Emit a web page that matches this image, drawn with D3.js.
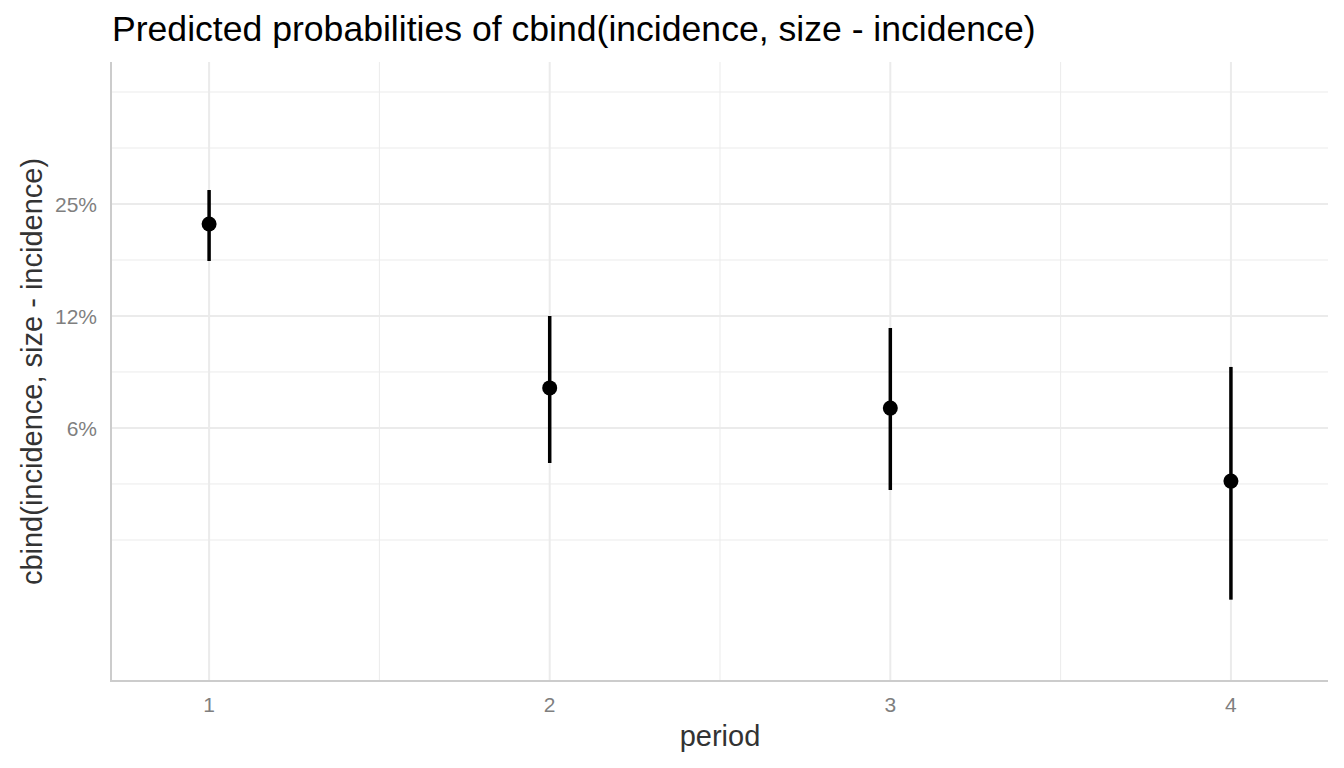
<!DOCTYPE html>
<html><head><meta charset="utf-8">
<script src="https://cdn.jsdelivr.net/npm/d3@7"></script>
<style>body{margin:0;background:#fff;} text{font-family:"Liberation Sans",Arial,sans-serif;}</style>
</head><body>
<svg id="c" width="1344" height="768"></svg>
<script>
const periods = [1, 2, 3, 4];
const predicted = [0.221, 0.0801, 0.0707, 0.0450];
const ciLow = [0.1757, 0.0503, 0.0426, 0.0216];
const ciHigh = [0.2726, 0.125, 0.1160, 0.0912];
const yBreaks = [0.0625, 0.125, 0.25];
const yLabels = ["6%", "12%", "25%"];
const yMinor = [0.03125, 0.0442, 0.0884, 0.1768, 0.3536, 0.5];
const xMinor = [1.5, 2.5, 3.5];

const svg = d3.select("#c");
const L = 111, R = 1328, T = 62, B = 681;
const x = d3.scaleLinear().domain([0.712, 4.285]).range([L, R]);
const y = d3.scaleLog().base(2).domain([Math.pow(2, -6.259), Math.pow(2, -0.732)]).range([B, T]);

const g = svg.append("g");
// minor grid
g.selectAll(".ym").data(yMinor).join("line")
  .attr("x1", L).attr("x2", R).attr("y1", d => y(d)).attr("y2", d => y(d))
  .attr("stroke", "#ebebeb").attr("stroke-width", 1);
g.selectAll(".xm").data(xMinor).join("line")
  .attr("y1", T).attr("y2", B).attr("x1", d => x(d)).attr("x2", d => x(d))
  .attr("stroke", "#ebebeb").attr("stroke-width", 1);
// major grid
g.selectAll(".yM").data(yBreaks).join("line")
  .attr("x1", L).attr("x2", R).attr("y1", d => y(d)).attr("y2", d => y(d))
  .attr("stroke", "#ebebeb").attr("stroke-width", 2);
g.selectAll(".xM").data(periods).join("line")
  .attr("y1", T).attr("y2", B).attr("x1", d => x(d)).attr("x2", d => x(d))
  .attr("stroke", "#ebebeb").attr("stroke-width", 2);

// axes lines
svg.append("line").attr("x1", L).attr("x2", L).attr("y1", T).attr("y2", B + 1)
  .attr("stroke", "#cccccc").attr("stroke-width", 2);
svg.append("line").attr("x1", L).attr("x2", R).attr("y1", B).attr("y2", B)
  .attr("stroke", "#cccccc").attr("stroke-width", 2);

// tick labels
svg.selectAll(".yl").data(yBreaks).join("text")
  .attr("x", 97).attr("y", d => y(d)).attr("dy", "0.36em")
  .attr("text-anchor", "end").attr("font-size", 21).attr("fill", "#7f7f7f")
  .text((d, i) => yLabels[i]);
svg.selectAll(".xl").data(periods).join("text")
  .attr("x", d => x(d)).attr("y", 712)
  .attr("text-anchor", "middle").attr("font-size", 21).attr("fill", "#7f7f7f")
  .text(d => d);

// error bars & points
const data = periods.map((p, i) => ({p, v: predicted[i], lo: ciLow[i], hi: ciHigh[i]}));
svg.selectAll(".eb").data(data).join("line")
  .attr("x1", d => x(d.p)).attr("x2", d => x(d.p))
  .attr("y1", d => y(d.lo)).attr("y2", d => y(d.hi))
  .attr("stroke", "#000").attr("stroke-width", 3.5);
svg.selectAll(".pt").data(data).join("circle")
  .attr("cx", d => x(d.p)).attr("cy", d => y(d.v)).attr("r", 7.5).attr("fill", "#000");

// titles
svg.append("text").attr("x", 112).attr("y", 41).attr("font-size", 35.6).attr("fill", "#000")
  .text("Predicted probabilities of cbind(incidence, size - incidence)");
svg.append("text").attr("x", x(2.5)).attr("y", 746).attr("text-anchor", "middle")
  .attr("font-size", 29).attr("fill", "#333")
  .text("period");
svg.append("text").attr("transform", `translate(42,${(T + B) / 2}) rotate(-90)`)
  .attr("text-anchor", "middle").attr("font-size", 29).attr("fill", "#333")
  .text("cbind(incidence, size - incidence)");
</script>
</body></html>
